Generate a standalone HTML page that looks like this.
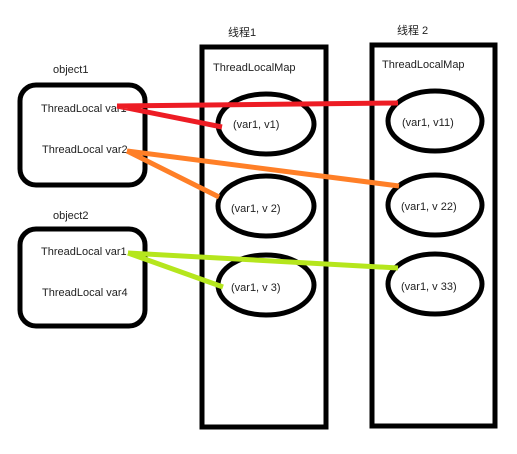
<!DOCTYPE html>
<html><head><style>
html,body{margin:0;padding:0;background:#fff;}
svg{display:block;}
text{font-family:"Liberation Sans","Noto Sans CJK SC",sans-serif;font-size:11px;fill:#222;}
</style></head><body>
<svg width="517" height="454" viewBox="0 0 517 454" xmlns="http://www.w3.org/2000/svg">
<g fill="none" stroke="#000" stroke-width="5">
<rect x="20" y="85" width="125" height="100" rx="16"/>
<rect x="20" y="229" width="125" height="97" rx="16"/>
<rect x="202" y="47" width="124" height="380"/>
<rect x="372" y="45" width="123" height="381"/>
<ellipse cx="266" cy="124" rx="48" ry="30"/>
<ellipse cx="266" cy="206" rx="48" ry="30"/>
<ellipse cx="266" cy="285" rx="48" ry="30"/>
<ellipse cx="435" cy="121" rx="47" ry="30"/>
<ellipse cx="435" cy="205" rx="47" ry="30"/>
<ellipse cx="435" cy="284" rx="47" ry="30"/>
</g>
<text x="53" y="73">object1</text>
<text x="53" y="219">object2</text>
<text x="41" y="112">ThreadLocal var1</text>
<text x="42" y="153">ThreadLocal var2</text>
<text x="41" y="255">ThreadLocal var1</text>
<text x="42" y="296">ThreadLocal var4</text>
<text x="228" y="36">线程1</text>
<text x="397" y="34">线程 2</text>
<text x="213" y="71">ThreadLocalMap</text>
<text x="382" y="68">ThreadLocalMap</text>
<text x="233" y="128">(var1, v1)</text>
<text x="231" y="212">(var1, v 2)</text>
<text x="231" y="291">(var1, v 3)</text>
<text x="402" y="126">(var1, v11)</text>
<text x="401" y="210">(var1, v 22)</text>
<text x="401" y="290">(var1, v 33)</text>
<g stroke-width="5" fill="none">
<path d="M117 106 L222 127 M117 106 L398 103" stroke="#ed1c24"/>
<path d="M127 151 L219 197 M127 151 L399 186" stroke="#ff7f27"/>
<path d="M128 253 L223 287 M128 253 L398 268" stroke="#b5e61d"/>
</g>
</svg>
</body></html>
